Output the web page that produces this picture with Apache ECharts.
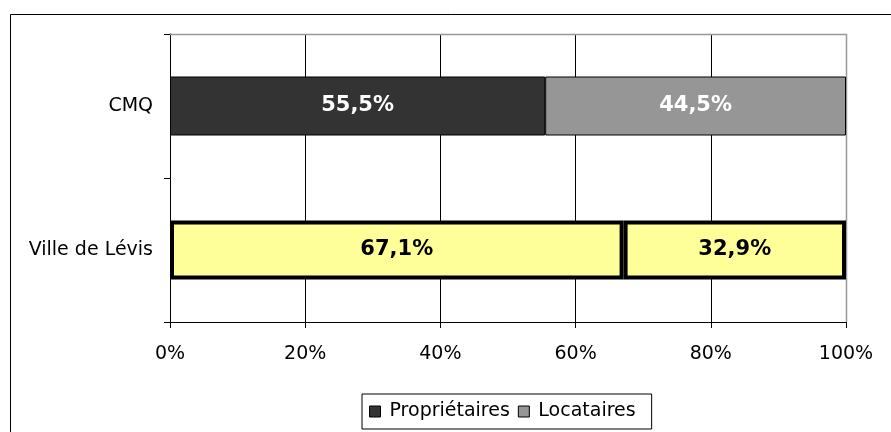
<!DOCTYPE html>
<html>
<head>
<meta charset="utf-8">
<script src="https://cdn.jsdelivr.net/npm/echarts@6/dist/echarts.min.js"></script>
<style>
  html, body { margin: 0; padding: 0; background: #fff; }
  #chart { width: 891px; height: 432px; }
</style>
</head>
<body>
<div id="chart"></div>
<script>
// données (de bas en haut sur l'axe des catégories)
var categories = ['Ville de Lévis', 'CMQ'];
var proprietaires = [67.1, 55.5];
var locataires = [32.9, 44.5];
var xTicks = [0, 20, 40, 60, 80, 100];
// catégorie mise en évidence
var highlight = 'Ville de Lévis';

var FONT = "'DejaVu Sans', Verdana, sans-serif";

function fmt(v) {
  return v.toFixed(1).replace('.', ',') + '%';
}

// construit les barres, avec le style jaune pour la ville
function buildData(values, color) {
  return values.map(function (v, i) {
    var hl = categories[i] === highlight;
    return {
      value: v,
      itemStyle: hl
        ? { color: '#ffff99', borderColor: '#000', borderWidth: 4 }
        : { color: color, borderColor: '#000', borderWidth: 1 },
      label: { color: hl ? '#000' : '#fff' }
    };
  });
}

var chart = echarts.init(document.getElementById('chart'));

chart.setOption({
  animation: false,
  textStyle: { fontFamily: FONT },
  graphic: [{
    type: 'rect',
    shape: { x: 10.5, y: 14.5, width: 900, height: 440 },
    style: { fill: 'none', stroke: '#000', lineWidth: 1 },
    z: -1
  }, {
    // bordure haut/droite de la zone de tracé
    type: 'polyline',
    shape: { points: [[170, 34.5], [846.5, 34.5], [846.5, 322]] },
    style: { stroke: '#999', lineWidth: 1.5, fill: 'none' },
    z: 1
  }],
  grid: { left: 170, right: 45, top: 34, bottom: 110 },
  legend: {
    left: 362,
    top: 394,
    itemWidth: 11,
    itemHeight: 11,
    itemGap: 8,
    padding: [8, 16, 8, 7],
    borderColor: '#000',
    borderWidth: 1,
    icon: 'rect',
    itemStyle: { borderColor: '#000', borderWidth: 1 },
    textStyle: { fontSize: 19, color: '#000', fontFamily: FONT, padding: [0, 0, 0, 4] },
    data: ['Propriétaires', 'Locataires']
  },
  xAxis: {
    type: 'value',
    min: 0,
    max: 100,
    interval: 20,
    axisLine: { show: true, lineStyle: { color: '#000' } },
    axisTick: { show: true, length: 6, inside: false, lineStyle: { color: '#000' } },
    splitLine: { show: true, lineStyle: { color: '#000', width: 1 } },
    axisLabel: {
      margin: 23,
      fontSize: 19,
      color: '#000',
      fontFamily: FONT,
      formatter: function (v) { return xTicks.indexOf(v) >= 0 ? v + '%' : ''; }
    }
  },
  yAxis: {
    type: 'category',
    data: categories,
    axisLine: { show: true, lineStyle: { color: '#000' } },
    axisTick: { show: true, length: 6, lineStyle: { color: '#000' } },
    axisLabel: { margin: 17, fontSize: 19, color: '#000', fontFamily: FONT }
  },
  series: [{
    name: 'Propriétaires',
    type: 'bar',
    stack: 'total',
    barWidth: 59,
    itemStyle: { color: '#333333', borderColor: '#000', borderWidth: 1 },
    label: {
      show: true,
      position: 'inside',
      fontSize: 21,
      fontWeight: 'bold',
      fontFamily: FONT,
      formatter: function (p) { return fmt(p.value); }
    },
    data: buildData(proprietaires, '#333333')
  }, {
    name: 'Locataires',
    type: 'bar',
    stack: 'total',
    barWidth: 59,
    itemStyle: { color: '#969696', borderColor: '#000', borderWidth: 1 },
    label: {
      show: true,
      position: 'inside',
      fontSize: 21,
      fontWeight: 'bold',
      fontFamily: FONT,
      formatter: function (p) { return fmt(p.value); }
    },
    data: buildData(locataires, '#969696')
  }]
});
</script>
</body>
</html>
